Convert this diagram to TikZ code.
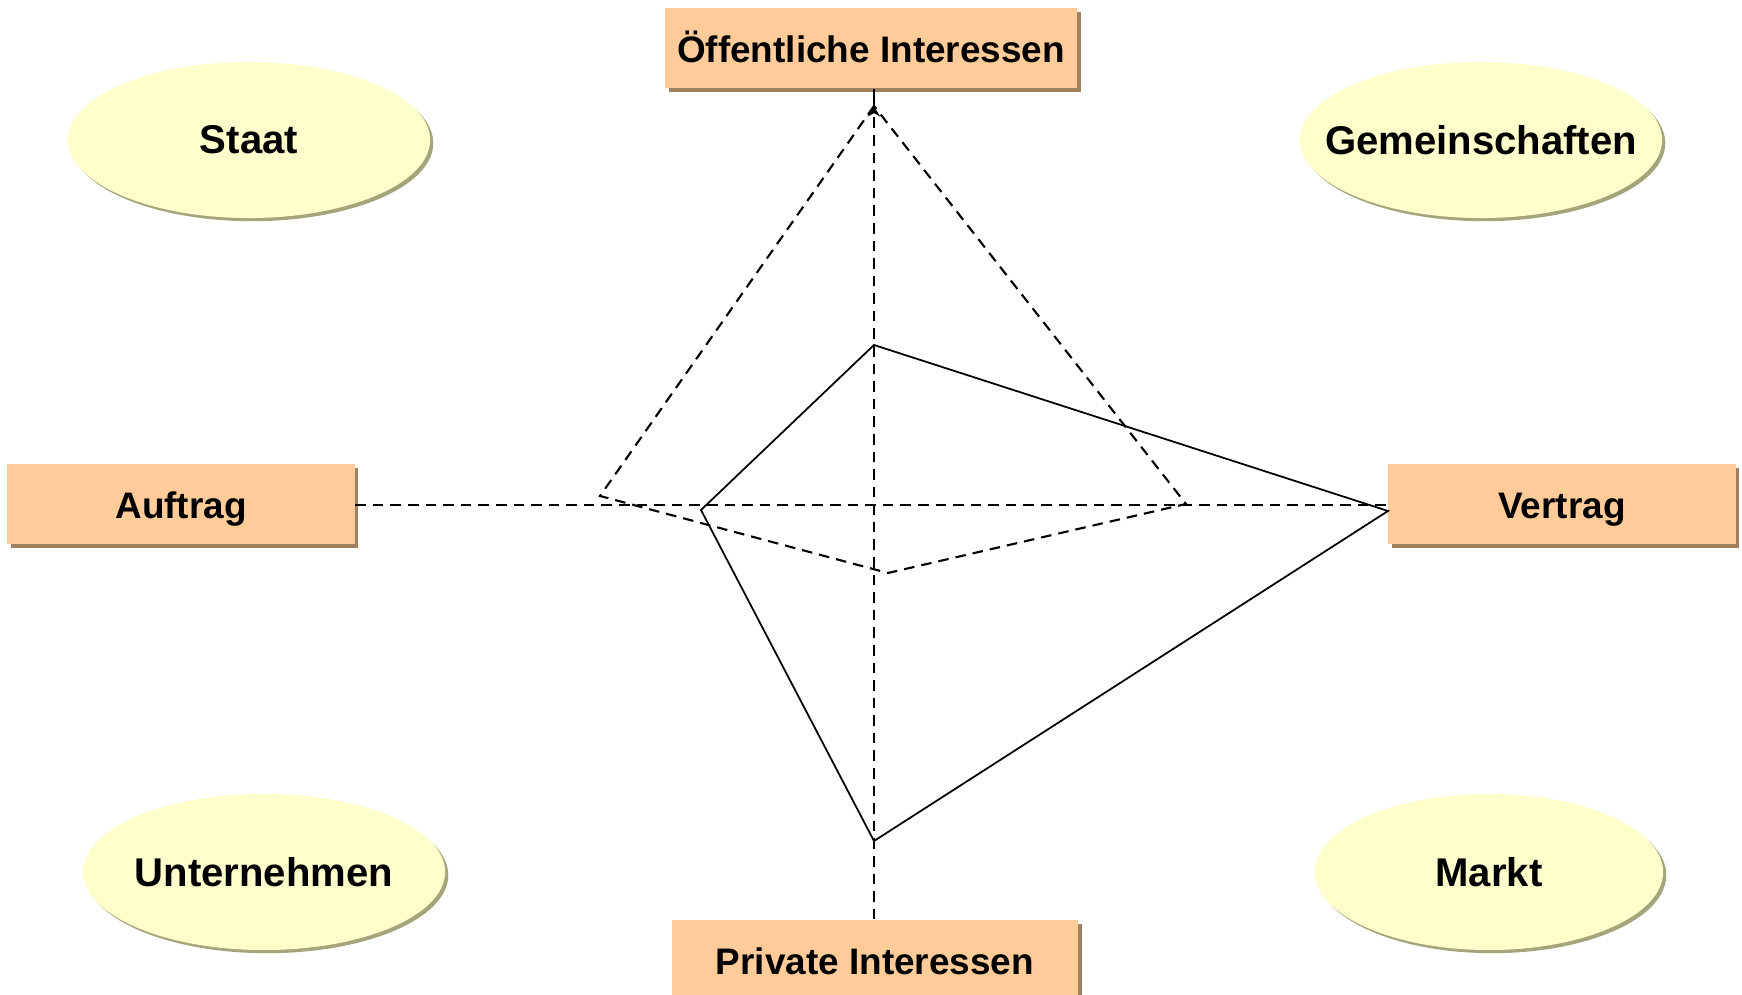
\documentclass[tikz,border=0pt]{standalone}
\usepackage{fontspec}
\setmainfont{Liberation Sans}
\usetikzlibrary{shapes.geometric,shadows,arrows.meta}
\definecolor{boxfill}{HTML}{FFCC99}
\definecolor{boxshade}{HTML}{A0805F}
\definecolor{ovalfill}{HTML}{FFFFCC}
\definecolor{ovalshade}{HTML}{A5A57C}

\begin{document}
\begin{tikzpicture}[x=0.01cm, y=-0.01cm,
    every node/.style={font=\fontsize{10.5}{12}\selectfont\bfseries},
    pole/.style={rectangle, fill=boxfill, minimum height=0.8cm,
      text height=8.6pt, text depth=0.4pt,
      drop shadow={shadow xshift=1.1pt, shadow yshift=-1.1pt, fill=boxshade, opacity=1}},
    oval/.style={ellipse, fill=ovalfill, minimum width=3.62cm, minimum height=1.56cm,
      inner xsep=-0.4cm, font=\fontsize{11.4}{13}\selectfont\bfseries,
      drop shadow={shadow xshift=0.9pt, shadow yshift=-0.9pt, fill=ovalshade, opacity=1}},
    axisline/.style={line width=0.6pt, dash pattern=on 3pt off 2pt},
    plan/.style={line width=0.6pt, dash pattern=on 3pt off 2pt, line join=miter},
    real/.style={line width=0.5pt, line join=miter}
  ]
  \useasboundingbox (0,0) rectangle (1742,995);

  % Pole
  \node[pole, minimum width=4.05cm] (pub) at (871,48) {Öffentliche Interessen};
  \node[pole, minimum width=4.06cm] (priv) at (875,960) {Private Interessen};
  \node[pole, minimum width=3.47cm] (auftrag) at (181,504) {Auftrag};
  \node[pole, minimum width=3.47cm] (vertrag) at (1562,504) {Vertrag};

  % Akteure
  \node[oval] (staat) at (249,140) {Staat};
  \node[oval] (gemein) at (1481,140) {Gemeinschaften};
  \node[oval] (untern) at (264,872) {Unternehmen};
  \node[oval, minimum width=3.48cm] (markt) at (1489,872) {Markt};

  % Achsen
  \coordinate (apex) at (874,106);
  \draw[axisline, -{Stealth[length=3pt,width=3.5pt]}] (priv.north -| apex) -- (apex);
  \draw[line width=0.6pt] (apex) -- (pub.south -| apex);
  \draw[axisline] (auftrag.east |- 0,505) -- (vertrag.west |- 0,505);

  % Soll
  \coordinate (s1) at (600,496);
  \coordinate (s2) at (888,573);
  \coordinate (s3) at (1186,504);
  \draw[plan] (apex) -- (s1) -- (s2) -- (s3) -- cycle;

  % Ist
  \coordinate (i0) at (874,345);
  \coordinate (i1) at (701,510);
  \coordinate (i2) at (874,841);
  \coordinate (i3) at (1388,511);
  \draw[real] (i0) -- (i1) -- (i2) -- (i3) -- cycle;
\end{tikzpicture}
\end{document}
